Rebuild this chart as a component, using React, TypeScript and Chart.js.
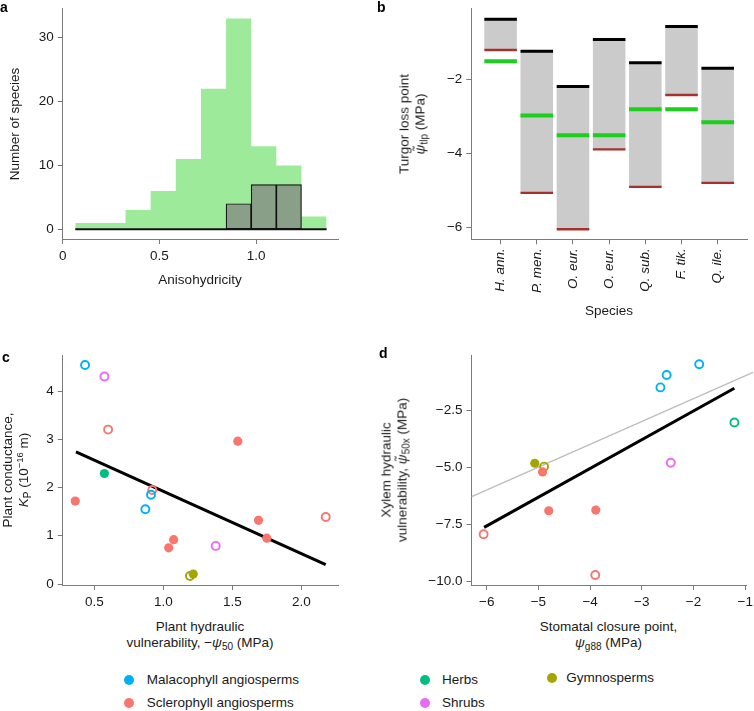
import React, { useEffect, useRef } from "react";
import { Chart, registerables } from "chart.js";
Chart.register(...registerables);

const FONT = '"Liberation Sans", Arial, Helvetica, sans-serif';
const AXIS = "#7a7a7a";
const TEXT = "#1a1a1a";
const FS = 13.5;

// ---------- Panel a: histogram of anisohydricity ----------
const binEdges = [0.065, 0.195, 0.325, 0.455, 0.585, 0.715, 0.845, 0.975, 1.105, 1.235, 1.365];
const allCounts = [1, 1, 3, 6, 11, 22, 33, 13, 10, 2];
const subsetCounts = [0, 0, 0, 0, 0, 0, 4, 7, 7, 0];
const aXTicks = [0, 0.5, 1.0];
const aYTicks = [0, 10, 20, 30];

// ---------- Panel b: turgor loss point ----------
const speciesLabels = ["H. ann.", "P. men.", "O. eur.", "O. eur.", "Q. sub.", "F. tik.", "Q. ile."];
const tlpUpper = [-0.39, -1.25, -2.2, -0.94, -1.56, -0.59, -1.71];
const tlpLower = [-1.22, -5.06, -6.04, -3.89, -4.9, -2.43, -4.79];
const tlpEstimate = [-1.52, -2.98, -3.51, -3.51, -2.81, -2.81, -3.16];
const bYTicks = [-2, -4, -6];

// ---------- Groups ----------
const groupNames = ["Malacophyll angiosperms", "Sclerophyll angiosperms", "Herbs", "Shrubs", "Gymnosperms"];
const groupColors = ["#00B0F6", "#F8766D", "#00BF7D", "#E76BF3", "#A3A500"];

// ---------- Panel c ----------
const cX = [0.433, 0.573, 0.6, 1.54, 0.573, 0.362, 0.92, 0.911, 0.87, 1.075, 1.039, 1.38, 1.69, 1.75, 2.177, 1.193, 1.217];
const cY = [4.54, 4.3, 3.2, 2.96, 2.29, 1.72, 1.95, 1.85, 1.55, 0.92, 0.75, 0.79, 1.32, 0.95, 1.39, 0.165, 0.207];
const cGroup = [0, 3, 1, 1, 2, 1, 1, 0, 0, 1, 1, 3, 1, 1, 1, 4, 4];
const cFilled = [false, false, false, true, true, true, false, false, false, true, true, false, true, true, false, false, true];
const cFitX = [0.367, 2.177];
const cFitY = [2.74, 0.4];
const cXTicks = [0.5, 1.0, 1.5, 2.0];
const cYTicks = [0, 1, 2, 3, 4];

// ---------- Panel d ----------
const dX = [-1.89, -2.52, -2.64, -1.21, -2.44, -4.89, -5.07, -4.92, -4.8, -3.89, -6.06, -3.9];
const dY = [-0.5, -0.97, -1.51, -3.05, -4.81, -4.98, -4.83, -5.21, -6.91, -6.88, -7.94, -9.72];
const dGroup = [0, 0, 0, 2, 3, 4, 4, 1, 1, 1, 1, 1];
const dFilled = [false, false, false, false, false, false, true, true, true, true, false, false];
const dFitX = [-6.05, -1.21];
const dFitY = [-7.64, -1.55];
const dOneToOne = [-6.29, -0.85];
const dXTicks = [-6, -5, -4, -3, -2, -1];
const dYTicks = [-2.5, -5, -7.5, -10];

const minus = (s: string) => s.replace("-", "\u2212");

function axis(o: {
  min: number; max: number; ticks: number[]; fmt: (v: number) => string;
  size: number; horizontal: boolean; italic?: boolean; rotate?: boolean;
}) {
  return {
    type: "linear",
    min: o.min,
    max: o.max,
    offset: false,
    afterBuildTicks: (s: any) => { s.ticks = o.ticks.map((v) => ({ value: v })); },
    afterFit: (s: any) => {
      if (o.horizontal) s.height = o.size; else s.width = o.size;
      s.paddingLeft = 0; s.paddingRight = 0; s.paddingTop = 0; s.paddingBottom = 0;
    },
    grid: { display: true, drawOnChartArea: false, drawTicks: true, tickLength: 5, tickColor: AXIS, lineWidth: 1, offset: false },
    border: { display: true, color: AXIS, width: 1 },
    ticks: {
      callback: (v: number) => o.fmt(v),
      font: { family: FONT, size: FS, style: o.italic ? "italic" : "normal" },
      color: TEXT,
      padding: 4,
      autoSkip: false,
      maxRotation: o.rotate ? 90 : 0,
      minRotation: o.rotate ? 90 : 0,
    },
  };
}

function common(padding: any, x: any, y: any) {
  return {
    responsive: false,
    animation: false,
    devicePixelRatio: 1,
    events: [],
    layout: { padding, autoPadding: false },
    plugins: { legend: { display: false }, tooltip: { enabled: false } },
    scales: { x, y },
  };
}

function scatterSet(xs: number[], ys: number[], groups: number[], filled: boolean[]) {
  return {
    type: "scatter",
    data: xs.map((x, i) => ({ x, y: ys[i] })),
    pointRadius: filled.map((f) => (f ? 4.6 : 4.0)),
    pointBorderWidth: filled.map((f) => (f ? 0 : 1.9)),
    pointBackgroundColor: groups.map((g, i) => (filled[i] ? groupColors[g] : "rgba(0,0,0,0)")),
    pointBorderColor: groups.map((g) => groupColors[g]),
    showLine: false,
    clip: false,
    order: 0,
  };
}

function configA() {
  const centers = binEdges.slice(0, -1).map((e, i) => (e + binEdges[i + 1]) / 2);
  const greenStep = binEdges.map((e, i) => ({ x: e, y: allCounts[Math.min(i, allCounts.length - 1)] }));
  const dark = centers.map((c, i) => ({ x: c, y: subsetCounts[i] })).filter((p) => p.y > 0);
  return {
    type: "bar",
    data: {
      datasets: [
        { type: "line", data: [{ x: binEdges[0], y: 0 }, { x: binEdges[binEdges.length - 1], y: 0 }], borderColor: "#111", borderWidth: 2, pointRadius: 0, order: 0 },
        { type: "bar", data: dark, backgroundColor: "#8a9f87", borderColor: "#111", borderWidth: 1.2, borderSkipped: false, barPercentage: 1, categoryPercentage: 1, grouped: false, order: 1 },
        { type: "line", data: greenStep, stepped: "before", fill: "origin", backgroundColor: "#9dea9a", borderColor: "rgba(0,0,0,0)", borderWidth: 0, pointRadius: 0, order: 2 },
      ],
    },
    options: common(
      { left: 0, top: 8, right: 39, bottom: 0 },
      axis({ min: 0, max: 1.424, ticks: aXTicks, fmt: (v) => (v === 0 ? "0" : v.toFixed(1)), size: 61, horizontal: true }),
      axis({ min: -1.52, max: 34.63, ticks: aYTicks, fmt: (v) => String(v), size: 62.7, horizontal: false })
    ),
  };
}

function segments(vals: number[]) {
  const out: any[] = [];
  vals.forEach((v, i) => {
    out.push({ x: i + 1 - 0.45, y: v }, { x: i + 1 + 0.45, y: v }, { x: i + 1.5, y: null });
  });
  return out;
}

function configB() {
  return {
    type: "bar",
    data: {
      datasets: [
        { type: "line", data: segments(tlpEstimate), borderColor: "#1ccf1c", borderWidth: 4, pointRadius: 0, spanGaps: false, order: 0 },
        { type: "line", data: segments(tlpUpper), borderColor: "#000", borderWidth: 3, pointRadius: 0, spanGaps: false, order: 1 },
        { type: "line", data: segments(tlpLower), borderColor: "#a8302c", borderWidth: 2.3, pointRadius: 0, spanGaps: false, order: 2 },
        { type: "bar", data: speciesLabels.map((_, i) => ({ x: i + 1, y: [tlpLower[i], tlpUpper[i]] })), backgroundColor: "#cbcbcb", borderWidth: 0, barPercentage: 0.9, categoryPercentage: 1, grouped: false, order: 5 },
      ],
    },
    options: common(
      { left: 0, top: 8, right: 7, bottom: 0 },
      axis({ min: 0.19, max: 7.81, ticks: speciesLabels.map((_, i) => i + 1), fmt: (v) => speciesLabels[Math.round(v) - 1] ?? "", size: 90.7, horizontal: true, italic: true, rotate: true }),
      axis({ min: -6.31, max: -0.09, ticks: bYTicks, fmt: (v) => minus(String(v)), size: 94.3, horizontal: false })
    ),
  };
}

function configC() {
  return {
    type: "scatter",
    data: {
      datasets: [
        scatterSet(cX, cY, cGroup, cFilled),
        { type: "line", data: cFitX.map((x, i) => ({ x, y: cFitY[i] })), borderColor: "#000", borderWidth: 3, pointRadius: 0, order: 1 },
      ],
    },
    options: common(
      { left: 0, top: 25, right: 39, bottom: 0 },
      axis({ min: 0.271, max: 2.266, ticks: cXTicks, fmt: (v) => v.toFixed(1), size: 30, horizontal: true }),
      axis({ min: -0.02, max: 4.746, ticks: cYTicks, fmt: (v) => String(v), size: 62.7, horizontal: false })
    ),
  };
}

function configD() {
  return {
    type: "scatter",
    data: {
      datasets: [
        scatterSet(dX, dY, dGroup, dFilled),
        { type: "line", data: dFitX.map((x, i) => ({ x, y: dFitY[i] })), borderColor: "#000", borderWidth: 3, pointRadius: 0, order: 1 },
        { type: "line", data: dOneToOne.map((v) => ({ x: v, y: v })), borderColor: "#bdbdbd", borderWidth: 1.3, pointRadius: 0, clip: false, order: 2 },
      ],
    },
    options: common(
      { left: 0, top: 25, right: 8, bottom: 0 },
      axis({ min: -6.294, max: -0.985, ticks: dXTicks, fmt: (v) => minus(String(v)), size: 30, horizontal: true }),
      axis({ min: -10.16, max: -0.092, ticks: dYTicks, fmt: (v) => minus(v.toFixed(1)), size: 94.5, horizontal: false })
    ),
  };
}

function ChartBox({ left, top, width, height, make }: { left: number; top: number; width: number; height: number; make: () => any }) {
  const ref = useRef<HTMLCanvasElement>(null);
  useEffect(() => {
    const chart = new Chart(ref.current as HTMLCanvasElement, make());
    return () => chart.destroy();
  }, []);
  return <canvas ref={ref} width={width} height={height} style={{ position: "absolute", left, top, width, height }} />;
}

function Txt({ x, y, rot, children, style }: { x: number; y: number; rot?: boolean; children: any; style?: any }) {
  return (
    <div
      style={{
        position: "absolute", left: x, top: y,
        transform: `translate(-50%, -50%)${rot ? " rotate(-90deg)" : ""}`,
        whiteSpace: "nowrap", textAlign: "center", lineHeight: "16px",
        fontSize: FS, fontFamily: FONT, color: TEXT, ...style,
      }}
    >
      {children}
    </div>
  );
}

const Sub = ({ children }: { children: any }) => (
  <span style={{ fontSize: "10px", position: "relative", top: "3px" }}>{children}</span>
);
const Sup = ({ children }: { children: any }) => (
  <span style={{ fontSize: "9.5px", position: "relative", top: "-5px" }}>{children}</span>
);

function Letter({ x, y, t }: { x: number; y: number; t: string }) {
  return (
    <div style={{ position: "absolute", left: x, top: y, fontFamily: FONT, fontWeight: "bold", fontSize: 14, lineHeight: "14px", color: "#000" }}>{t}</div>
  );
}

const legendPos = [
  { dx: 129, dy: 680, tx: 146.7 },
  { dx: 129, dy: 703.3, tx: 146.7 },
  { dx: 425.3, dy: 680, tx: 442 },
  { dx: 425.3, dy: 702.7, tx: 442 },
  { dx: 552, dy: 677.7, tx: 566.3 },
];

export default function App() {
  return (
    <div style={{ position: "absolute", left: 0, top: 0, width: 754, height: 711, background: "#fff", overflow: "hidden" }}>
      <ChartBox left={0} top={0} width={377} height={300} make={configA} />
      <ChartBox left={377} top={0} width={377} height={330} make={configB} />
      <ChartBox left={0} top={330} width={377} height={285} make={configC} />
      <ChartBox left={377} top={330} width={377} height={285} make={configD} />

      <Letter x={0} y={0} t="a" />
      <Letter x={377} y={0} t="b" />
      <Letter x={2} y={350} t="c" />
      <Letter x={379} y={346} t="d" />

      <Txt x={15} y={123.5} rot>Number of species</Txt>
      <Txt x={200} y={280}>Anisohydricity</Txt>

      <Txt x={413.3} y={124} rot>
        Turgor loss point<br />
        <i>ψ̃</i><Sub>tlp</Sub> (MPa)
      </Txt>
      <Txt x={609} y={311}>Species</Txt>

      <Txt x={15.5} y={470} rot>
        Plant conductance,<br />
        <i>K</i><Sub>P</Sub> (10<Sup>−16</Sup> m)
      </Txt>
      <Txt x={200} y={635}>
        Plant hydraulic<br />
        vulnerability, −<i>ψ</i><Sub>50</Sub> (MPa)
      </Txt>

      <Txt x={395} y={470} rot>
        Xylem hydraulic<br />
        vulnerability, <i>ψ̃</i><Sub>50x</Sub> (MPa)
      </Txt>
      <Txt x={608.5} y={635}>
        Stomatal closure point,<br />
        <i>ψ</i><Sub>g88</Sub> (MPa)
      </Txt>

      {groupNames.map((name, i) => (
        <React.Fragment key={name}>
          <div style={{ position: "absolute", left: legendPos[i].dx - 5, top: legendPos[i].dy - 5, width: 10, height: 10, borderRadius: 5, background: groupColors[i] }} />
          <div style={{ position: "absolute", left: legendPos[i].tx, top: legendPos[i].dy - 8, lineHeight: "16px", fontSize: FS, fontFamily: FONT, color: TEXT, whiteSpace: "nowrap" }}>{name}</div>
        </React.Fragment>
      ))}
    </div>
  );
}
